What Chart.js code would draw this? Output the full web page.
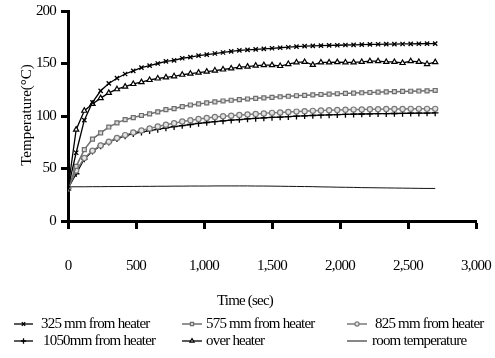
<!DOCTYPE html>
<html>
<head>
<meta charset="utf-8">
<script src="https://cdn.jsdelivr.net/npm/chart.js@4.4.0/dist/chart.umd.min.js"></script>
<style>
  body { margin: 0; background: #fff; }
  .wrap { width: 495px; height: 358px; position: relative; }
</style>
</head>
<body>
<div class="wrap"><canvas id="myChart"></canvas></div>
<script>
// time of each reading (sec)
const times = [0, 60, 120, 180, 240, 300, 360, 420, 480, 540,
  600, 660, 720, 780, 840, 900, 960, 1020, 1080, 1140,
  1200, 1260, 1320, 1380, 1440, 1500, 1560, 1620, 1680, 1740,
  1800, 1860, 1920, 1980, 2040, 2100, 2160, 2220, 2280, 2340,
  2400, 2460, 2520, 2580, 2640, 2700];

const t325 = [31, 65, 96, 113, 124, 131, 136, 140, 143, 146,
  148, 150, 152, 153, 155, 156, 157.5, 158.5, 159.5, 160.5,
  161.5, 162.5, 163, 163.5, 164, 164.5, 165, 165.5, 166, 166.5,
  166.8, 167, 167.2, 167.4, 167.6, 167.8, 168, 168.2, 168.3, 168.4,
  168.5, 168.6, 168.7, 168.8, 168.9, 169];

const t575 = [31, 52, 68, 78, 84, 89.5, 93.5, 96.5, 98.5, 100.5,
  102, 104, 106, 107, 109, 110.5, 111.5, 112.5, 113.5, 114.3,
  115, 115.6, 116.2, 116.8, 117.3, 117.8, 118.3, 118.8, 119.3, 119.7,
  120.1, 120.5, 120.9, 121.2, 121.5, 121.8, 122.1, 122.4, 122.7, 123,
  123.2, 123.4, 123.6, 123.8, 124, 124.3];

const t825 = [31, 48, 60, 67, 72, 75.5, 79, 81.8, 84.4, 86.3,
  88.2, 90, 91.7, 93.2, 94.8, 96, 97.2, 98.2, 99, 99.7,
  100.3, 101, 101.5, 102, 102.5, 103, 103.4, 103.8, 104.2, 104.6,
  104.9, 105.2, 105.5, 105.7, 105.9, 106.1, 106.3, 106.4, 106.5, 106.6,
  106.7, 106.7, 106.8, 106.8, 106.8, 106.8];

const t1050 = [31, 45, 59, 66.5, 71.5, 75, 78.5, 81, 83.2, 84.6,
  86, 87.3, 88.6, 89.8, 90.9, 91.9, 92.9, 93.8, 94.6, 95.3,
  96, 96.6, 97.2, 97.7, 98.2, 98.6, 99, 99.4, 99.8, 100.2,
  100.5, 100.8, 101.1, 101.3, 101.5, 101.7, 101.9, 102.1, 102.2, 102.3,
  102.4, 102.5, 102.6, 102.7, 102.8, 102.9];

const tOver = [31, 87, 105, 111.5, 117, 122, 125.5, 128, 130.5, 132.3,
  134.3, 135.7, 136.8, 137.8, 139.3, 140.3, 141.3, 142.3, 143.3, 144.3,
  145.3, 146.5, 147, 148, 148.5, 148.5, 147.6, 149.5, 151, 151.5,
  148.7, 151, 151, 151.3, 151, 151, 151.5, 152.2, 152.2, 151.5,
  151.5, 150.5, 152.2, 151.5, 149.5, 151.3];

const tRoom = [32.5, 32.6, 32.6, 32.7, 32.7, 32.8, 32.8, 32.9, 32.9, 33,
  33, 33.1, 33.1, 33.2, 33.2, 33.3, 33.3, 33.3, 33.4, 33.4,
  33.4, 33.4, 33.4, 33.3, 33.3, 33.2, 33.1, 33, 32.9, 32.8,
  32.7, 32.5, 32.4, 32.2, 32.1, 32, 31.8, 31.7, 31.6, 31.5,
  31.4, 31.3, 31.2, 31.1, 31, 31];

const seriesNames = ["325 mm from heater", "575 mm from heater", "825 mm from heater",
  "1050mm from heater", "over heater", "room temperature"];

const xTicks = [0, 500, 1000, 1500, 2000, 2500, 3000];
const yTicks = [0, 50, 100, 150, 200];

function pts(vals) {
  return times.map((t, i) => ({ x: t, y: vals[i] }));
}

const FONT = "'Liberation Serif', 'Times New Roman', serif";
const SPACING = "-0.8px";

const data = {
  datasets: [
    {
      label: seriesNames[0],
      data: pts(t325),
      borderColor: "#000",
      backgroundColor: "#000",
      borderWidth: 1.3,
      pointStyle: "crossRot",
      pointRadius: 3,
      pointBorderWidth: 1.3,
    },
    {
      label: seriesNames[1],
      data: pts(t575),
      borderColor: "#6e6e6e",
      backgroundColor: "#d8d8d8",
      borderWidth: 1.5,
      pointStyle: "rect",
      pointRadius: 2.8,
      pointBorderWidth: 1.2,
    },
    {
      label: seriesNames[2],
      data: pts(t825),
      borderColor: "#7a7a7a",
      backgroundColor: "#e4e4e4",
      borderWidth: 1.5,
      pointStyle: "circle",
      pointRadius: 2.6,
      pointBorderWidth: 1.2,
    },
    {
      label: seriesNames[3],
      data: pts(t1050),
      borderColor: "#000",
      backgroundColor: "#000",
      borderWidth: 1.3,
      pointStyle: "cross",
      pointRadius: 3.3,
      pointBorderWidth: 1.3,
    },
    {
      label: seriesNames[4],
      data: pts(tOver),
      borderColor: "#000",
      backgroundColor: "#fff",
      borderWidth: 1.3,
      pointStyle: "triangle",
      pointRadius: 3,
      pointBorderWidth: 1.2,
    },
    {
      label: seriesNames[5],
      data: pts(tRoom),
      borderColor: "#111",
      backgroundColor: "#111",
      borderWidth: 1,
      pointRadius: 0,
    },
  ],
};

// hand laid legend, 3 columns x 2 rows like the original
const legendSlots = [
  { x0: 14, x1: 33, tx: 41, y: 324 },
  { x0: 182, x1: 202, tx: 206, y: 324 },
  { x0: 347, x1: 367, tx: 375, y: 324 },
  { x0: 14, x1: 33, tx: 43, y: 341 },
  { x0: 182, x1: 202, tx: 206, y: 341 },
  { x0: 347, x1: 367, tx: 372, y: 341 },
];

const paperPlugin = {
  id: "paper",
  beforeInit(chart) {
    chart.ctx.letterSpacing = SPACING;
  },
  beforeLayout(chart) {
    chart.ctx.letterSpacing = SPACING;
  },
  afterDraw(chart) {
    const ctx = chart.ctx;
    ctx.save();
    ctx.fillStyle = "#000";
    ctx.textBaseline = "middle";
    ctx.textAlign = "center";

    // y axis title
    ctx.save();
    ctx.letterSpacing = "0px";
    ctx.font = "15px " + FONT;
    ctx.translate(27, 115);
    ctx.rotate(-Math.PI / 2);
    ctx.fillText("Temperature(°C)", 0, 0);
    ctx.restore();

    ctx.letterSpacing = SPACING;
    ctx.font = "15px " + FONT;
    // x axis title, sits a bit left of centre in the original
    ctx.fillText("Time (sec)", 245, 301);

    ctx.textAlign = "left";
    chart.data.datasets.forEach((ds, i) => {
      const s = legendSlots[i];
      ctx.strokeStyle = ds.borderColor;
      ctx.lineWidth = ds.borderWidth;
      ctx.beginPath();
      ctx.moveTo(s.x0, s.y);
      ctx.lineTo(s.x1, s.y);
      ctx.stroke();
      if (ds.pointRadius > 0) {
        ctx.fillStyle = ds.backgroundColor;
        ctx.lineWidth = ds.pointBorderWidth;
        Chart.helpers.drawPoint(ctx, {
          pointStyle: ds.pointStyle,
          radius: ds.pointRadius * 0.8,
          borderWidth: ds.pointBorderWidth,
          rotation: 0,
        }, (s.x0 + s.x1) / 2, s.y);
      }
      ctx.fillStyle = "#000";
      ctx.fillText(ds.label, s.tx, s.y);
    });
    ctx.restore();
  },
};

const config = {
  type: "line",
  data: data,
  options: {
    responsive: true,
    maintainAspectRatio: false,
    animation: false,
    layout: {
      padding: { left: 4, right: 4, top: 11, bottom: 55 },
    },
    plugins: {
      legend: { display: false },
      tooltip: { enabled: false },
    },
    elements: {
      line: { tension: 0 },
    },
    scales: {
      x: {
        type: "linear",
        min: 0,
        max: 3000,
        afterBuildTicks: (scale) => {
          scale.ticks = xTicks.map((v) => ({ value: v }));
        },
        afterFit: (scale) => {
          scale.paddingLeft = 0;
          scale.paddingRight = 19;
        },
        border: { display: true, color: "#000", width: 3 },
        grid: {
          display: true,
          drawOnChartArea: false,
          drawTicks: true,
          tickLength: 8,
          tickWidth: 3,
          tickColor: "#000",
        },
        ticks: {
          color: "#000",
          padding: 28,
          maxRotation: 0,
          font: { family: FONT, size: 15 },
          callback: (v) => v.toLocaleString("en-US"),
        },
      },
      y: {
        min: 0,
        max: 200,
        afterBuildTicks: (scale) => {
          scale.ticks = yTicks.map((v) => ({ value: v }));
        },
        afterFit: (scale) => {
          scale.width = 64;
          scale.paddingTop = 0;
          scale.paddingBottom = 0;
        },
        border: { display: true, color: "#000", width: 3 },
        grid: {
          display: true,
          drawOnChartArea: false,
          drawTicks: true,
          tickLength: 7,
          tickWidth: 3,
          tickColor: "#000",
        },
        ticks: {
          color: "#000",
          padding: 5,
          font: { family: FONT, size: 15 },
        },
      },
    },
  },
  plugins: [paperPlugin],
};

const myChart = new Chart(document.getElementById("myChart"), config);
</script>
</body>
</html>
